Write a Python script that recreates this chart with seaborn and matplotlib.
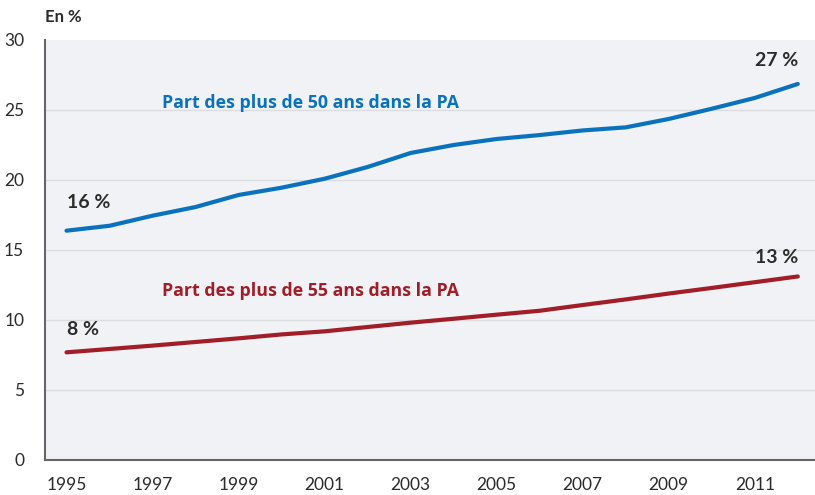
import pandas as pd
import matplotlib.pyplot as plt
import seaborn as sns

years = list(range(1995, 2013))
part_50 = [16.38, 16.73, 17.45, 18.07, 18.93, 19.45, 20.09, 20.93, 21.93, 22.5,
           22.93, 23.21, 23.54, 23.76, 24.36, 25.09, 25.86, 26.86]
part_55 = [7.69, 7.93, 8.17, 8.43, 8.69, 8.97, 9.19, 9.5, 9.81, 10.09,
           10.38, 10.66, 11.07, 11.47, 11.89, 12.29, 12.7, 13.11]
series_names = ['Part des plus de 50 ans dans la PA', 'Part des plus de 55 ans dans la PA']
year_labels = [str(y) for y in range(1995, 2012, 2)]

BLUE = '#0a72bd'
RED = '#a11d27'
DARK = '#2b2b2b'


def build_frame():
    df50 = pd.DataFrame({'annee': years, 'part': part_50, 'serie': series_names[0]})
    df55 = pd.DataFrame({'annee': years, 'part': part_55, 'serie': series_names[1]})
    return pd.concat([df50, df55], ignore_index=True)


def main():
    sns.set_style('white', {'axes.facecolor': '#f0f2f5'})
    plt.rcParams['font.family'] = ['Lato', 'DejaVu Sans']

    data = build_frame()
    fig = plt.figure(figsize=(8.15, 4.95), dpi=100)
    ax = fig.add_axes([45 / 815, 35 / 495, 770 / 815, 420 / 495])

    sns.lineplot(data=data, x='annee', y='part', hue='serie',
                 palette=[BLUE, RED], linewidth=3, legend=False, ax=ax,
                 solid_capstyle='round')

    ax.set_xlim(1994.5, 2012.4)
    ax.set_ylim(0, 30)
    ax.set_yticks(range(0, 31, 5))
    ax.set_yticklabels([str(v) for v in range(0, 31, 5)], fontsize=12.5, color=DARK)
    ax.set_xticks([int(y) for y in year_labels])
    ax.set_xticklabels(year_labels, fontsize=12.5, color=DARK)
    ax.set_xticks([y + 0.5 for y in range(1995, 2012)], minor=True)
    ax.tick_params(axis='x', which='major', length=0, pad=12)
    ax.tick_params(axis='x', which='minor', length=5, width=1, color='#888888', direction='out')
    ax.tick_params(axis='y', length=7, width=1, color='#888888', pad=8)
    ax.set_xlabel('')
    ax.set_ylabel('')

    for v in range(5, 30, 5):
        ax.axhline(v, color='#dcdde0', linewidth=1, zorder=0)

    for side in ['top', 'right']:
        ax.spines[side].set_visible(False)
    for side in ['left', 'bottom']:
        ax.spines[side].set_color('#666666')
        ax.spines[side].set_linewidth(1.5)

    ax.text(1995.0, 18.4, '16 %', fontsize=14, fontweight='bold', color=DARK, va='center', ha='left')
    ax.text(2012.0, 28.5, '27 %', fontsize=14, fontweight='bold', color=DARK, va='center', ha='right')
    ax.text(1995.0, 9.3, '8 %', fontsize=14, fontweight='bold', color=DARK, va='center', ha='left')
    ax.text(2012.0, 14.45, '13 %', fontsize=14, fontweight='bold', color=DARK, va='center', ha='right')

    label_font = ['Open Sans', 'DejaVu Sans']
    ax.text(1997.22, 25.5, series_names[0], fontsize=12.8, fontweight='bold', color=BLUE,
            va='center', ha='left', family=label_font)
    ax.text(1997.22, 12.1, series_names[1], fontsize=12.8, fontweight='bold', color=RED,
            va='center', ha='left', family=label_font)

    fig.text(45 / 815, 1 - 17 / 495, 'En %', fontsize=12, fontweight='bold', color=DARK, va='center', ha='left')

    fig.savefig('out.png', dpi=100)


if __name__ == '__main__':
    main()
